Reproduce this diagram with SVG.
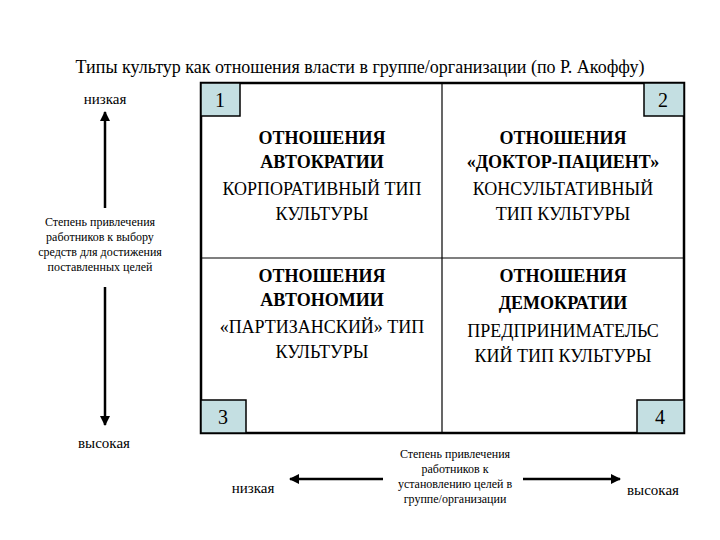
<svg xmlns="http://www.w3.org/2000/svg" width="720" height="540" viewBox="0 0 720 540" font-family="Liberation Serif, DejaVu Serif, serif">
<style>
text{font-family:'Liberation Serif','DejaVu Serif',serif;fill:#000}
.q{font-size:18px;text-anchor:middle}
.b{font-weight:bold}
.s{font-size:12px;text-anchor:middle}
.n{font-size:20px;text-anchor:middle}
.corner{fill:#c4dfe2;stroke:#000;stroke-width:1.5}
</style>
<defs><marker id="ah" viewBox="0 0 10 10" refX="9" refY="5" markerWidth="4" markerHeight="4" orient="auto"><path d="M0,0L10,5L0,10z" fill="#000"/></marker></defs>
<rect width="720" height="540" fill="#fff"/>
<text x="360" y="73" style="font-size:18px;text-anchor:middle">Типы культур как отношения власти в группе/организации (по Р. Акоффу)</text>
<g id="matrix">
<rect x="201" y="83" width="483" height="350" fill="#fff" stroke="#000" stroke-width="2.5"/>
<line x1="442" y1="83" x2="442" y2="433" stroke="#000" stroke-width="1.2"/>
<line x1="201" y1="258" x2="684" y2="258" stroke="#000" stroke-width="1.2"/>
</g>
<g id="c1"><rect class="corner" x="201" y="83" width="39" height="33"/><text class="n" x="220" y="107">1</text></g>
<g id="c2"><rect class="corner" x="644" y="83" width="40" height="33"/><text class="n" x="663" y="107">2</text></g>
<g id="c3"><rect class="corner" x="201" y="400" width="45" height="33"/><text class="n" x="223" y="424">3</text></g>
<g id="c4"><rect class="corner" x="637" y="400" width="47" height="33"/><text class="n" x="660" y="424">4</text></g>
<g id="q1"><text class="q b" x="322" y="144">ОТНОШЕНИЯ</text><text class="q b" x="322" y="168">АВТОКРАТИИ</text><text class="q" x="322" y="195">КОРПОРАТИВНЫЙ ТИП</text><text class="q" x="322" y="220">КУЛЬТУРЫ</text></g>
<g id="q2"><text class="q b" x="563" y="144">ОТНОШЕНИЯ</text><text class="q b" x="563" y="168">«ДОКТОР-ПАЦИЕНТ»</text><text class="q" x="563" y="195">КОНСУЛЬТАТИВНЫЙ</text><text class="q" x="563" y="220">ТИП КУЛЬТУРЫ</text></g>
<g id="q3"><text class="q b" x="322" y="282">ОТНОШЕНИЯ</text><text class="q b" x="322" y="306">АВТОНОМИИ</text><text class="q" x="322" y="333">«ПАРТИЗАНСКИЙ» ТИП</text><text class="q" x="322" y="358">КУЛЬТУРЫ</text></g>
<g id="q4"><text class="q b" x="563" y="282">ОТНОШЕНИЯ</text><text class="q b" x="563" y="309">ДЕМОКРАТИИ</text><text class="q" x="563" y="337">ПРЕДПРИНИМАТЕЛЬС</text><text class="q" x="563" y="362">КИЙ ТИП КУЛЬТУРЫ</text></g>
<g id="labels">
<text x="105" y="104" style="font-size:15px;text-anchor:middle">низкая</text>
<text x="104" y="448" style="font-size:15px;text-anchor:middle">высокая</text>
<text class="s" x="100" y="226">Степень привлечения</text>
<text class="s" x="100" y="241">работников к выбору</text>
<text class="s" x="100" y="256">средств для достижения</text>
<text class="s" x="100" y="271">поставленных целей</text>
<text x="253" y="493" style="font-size:15px;text-anchor:middle">низкая</text>
<text x="653" y="495" style="font-size:15px;text-anchor:middle">высокая</text>
<text class="s" x="455" y="458">Степень привлечения</text>
<text class="s" x="455" y="473">работников к</text>
<text class="s" x="455" y="488">установлению целей в</text>
<text class="s" x="455" y="503">группе/организации</text>
</g>
<g id="connectors" stroke="#000" stroke-width="2.5" fill="none">
<line x1="105" y1="208" x2="105" y2="112" marker-end="url(#ah)"/>
<line x1="105" y1="287" x2="105" y2="425" marker-end="url(#ah)"/>
<line x1="383" y1="479" x2="290" y2="479" marker-end="url(#ah)"/>
<line x1="523" y1="479" x2="620" y2="479" marker-end="url(#ah)"/>
</g>
</svg>
